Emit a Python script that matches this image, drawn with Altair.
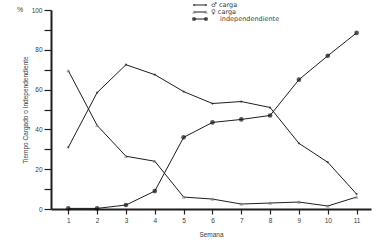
import altair as alt
import pandas as pd

weeks = list(range(1, 12))
male = [31, 58.5, 72.5, 67.5, 59, 53, 54, 51, 33, 23.5, 7.5]
female = [69.5, 42, 26.5, 24, 6, 5, 2.5, 3, 3.5, 1.5, 6]
indep = [0.3, 0.3, 2, 9, 36, 43.5, 45, 47, 65, 77, 88.5]
series_names = ["♂ carga", "♀ carga", "independendiente"]

rows = []
for name, vals in zip(series_names, [male, female, indep]):
    for w, v in zip(weeks, vals):
        rows.append({"semana": w, "valor": v, "serie": name})
df = pd.DataFrame(rows)

FONT = "Liberation Sans"
TXT = "#3a3a3a"
INK = "#1e1e1e"

x_enc = alt.X("semana:Q", scale=alt.Scale(domain=[0.4, 11.5], nice=False, zero=False),
              axis=alt.Axis(values=weeks, tickSize=5, tickWidth=1.2, tickColor=INK,
                            domainColor=INK, domainWidth=2, grid=False, labelOverlap=False,
                            labelFontSize=6.5, labelColor=TXT, labelFont=FONT, labelPadding=3,
                            title="Semana", titleFontSize=6.5, titleFont=FONT, titleColor=TXT,
                            titleFontWeight="normal", titlePadding=8))
y_enc = alt.Y("valor:Q", scale=alt.Scale(domain=[0, 100], nice=False),
              axis=alt.Axis(values=list(range(0, 101, 10)), tickSize=7, tickWidth=1.2,
                            tickColor=INK, domainColor=INK, domainWidth=2, grid=False,
                            labelOverlap=False, labelBound=False, labelFlush=False,
                            labelExpr="datum.value % 20 == 0 ? datum.label : ''",
                            labelFontSize=6.5, labelColor=TXT, labelFont=FONT, labelPadding=2,
                            title="Tiempo Cargado o Independendiente", titleFontSize=6.5,
                            titleFont=FONT, titleColor=TXT, titleFontWeight="normal",
                            titleX=-26, titleY=99.5, titleAngle=-90, titleAlign="center",
                            titleBaseline="middle"))

base = alt.Chart(df)
lines = base.mark_line(strokeWidth=1, color=INK).encode(
    x=x_enc, y=y_enc, detail="serie:N")

pts_m = base.transform_filter(alt.datum.serie == series_names[0]).mark_point(
    shape="circle", filled=True, size=5, color=INK).encode(x=x_enc, y=y_enc)
pts_f = base.transform_filter(alt.datum.serie == series_names[1]).mark_point(
    shape="triangle-up", filled=False, size=8, strokeWidth=0.7, color="#666666").encode(
    x=x_enc, y=y_enc)
pts_i = base.transform_filter(alt.datum.serie == series_names[2]).mark_point(
    shape="circle", filled=True, size=22, color="#111111").encode(x=x_enc, y=y_enc)

# legend
leg_rows = [-5, 2, 9]
leg_x1, leg_x2 = 143, 155
leg_layers = []
for i, name in enumerate(series_names):
    one = alt.Chart(pd.DataFrame({"label": [name]}))
    yv = leg_rows[i]
    leg_layers.append(one.mark_rule(color=INK, strokeWidth=1).encode(
        x=alt.value(leg_x1), x2=alt.value(leg_x2), y=alt.value(yv)))
    if i == 0:
        pstyle = dict(shape="circle", filled=True, size=5, color=INK)
    elif i == 1:
        pstyle = dict(shape="triangle-up", filled=False, size=8, strokeWidth=0.7, color="#666666")
    else:
        pstyle = dict(shape="circle", filled=True, size=18, color="#111111")
    for xv in (leg_x1, leg_x2):
        leg_layers.append(one.mark_point(**pstyle).encode(x=alt.value(xv), y=alt.value(yv)))
    leg_layers.append(one.mark_text(align="left", baseline="middle", fontSize=6.5,
                                    font="DejaVu Sans", color=TXT).encode(
        x=alt.value(160 if i < 2 else 169), y=alt.value(yv), text="label:N"))

pct = alt.Chart(pd.DataFrame({"t": ["%"]})).mark_text(
    align="left", baseline="middle", fontSize=7, font=FONT, color=TXT).encode(
    x=alt.value(-34), y=alt.value(0), text="t:N")

chart = alt.layer(lines, pts_m, pts_f, pts_i, pct, *leg_layers).properties(
    width=320, height=199,
    autosize=alt.AutoSizeParams(type="none"),
    padding={"left": 51, "top": 10, "right": 12, "bottom": 38},
    background="white",
).configure_view(stroke=None).configure_axis(labelOverlap=False)

chart.save("out.html", embed_options={"renderer": "svg", "actions": False})
